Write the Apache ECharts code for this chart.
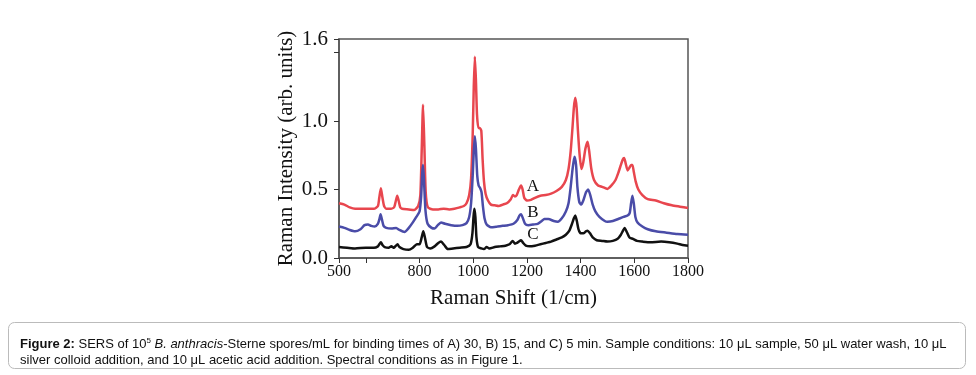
<!DOCTYPE html>
<html>
<head>
<meta charset="utf-8">
<script src="https://cdn.jsdelivr.net/npm/echarts@6/dist/echarts.min.js"></script>
<style>
  html, body { margin: 0; padding: 0; background: #fff; }
  #chart { width: 976px; height: 375px; }
</style>
</head>
<body>
<div id="chart"></div>
<script>
// 光谱数据
var shiftA = [500, 520, 540, 560, 600, 630, 645, 650, 656, 662,
  668, 676, 690, 705, 712, 717, 722, 728, 735, 760,
  780, 795, 803, 808, 813, 818, 823, 831, 850, 870,
  890, 910, 930, 950, 965, 975, 985, 992, 998, 1002,
  1006, 1010, 1014, 1019, 1024, 1030, 1035, 1040, 1046, 1055,
  1066, 1080, 1095, 1110, 1125, 1140, 1148, 1155, 1162, 1170,
  1178, 1184, 1190, 1200, 1215, 1230, 1250, 1270, 1290, 1310,
  1330, 1345, 1355, 1363, 1370, 1375, 1380, 1385, 1390, 1396,
  1403, 1410, 1418, 1426, 1432, 1440, 1450, 1465, 1480, 1500,
  1515, 1530, 1540, 1550, 1557, 1562, 1568, 1575, 1582, 1588,
  1593, 1598, 1605, 1615, 1630, 1650, 1680, 1710, 1740, 1770,
  1800];
var intensityA = [0.40, 0.39, 0.37, 0.36, 0.36, 0.36, 0.38, 0.44, 0.51, 0.44,
  0.38, 0.36, 0.36, 0.37, 0.42, 0.455, 0.42, 0.37, 0.36, 0.355,
  0.35, 0.38, 0.46, 0.78, 1.12, 0.82, 0.48, 0.37, 0.355, 0.355,
  0.36, 0.355, 0.36, 0.37, 0.38, 0.40, 0.46, 0.58, 0.90, 1.25,
  1.47, 1.30, 1.05, 0.95, 0.95, 0.93, 0.72, 0.56, 0.47, 0.42,
  0.39, 0.385, 0.38, 0.39, 0.40, 0.43, 0.46, 0.45, 0.46, 0.50,
  0.53, 0.50, 0.44, 0.42, 0.425, 0.44, 0.455, 0.46, 0.47, 0.49,
  0.52, 0.57, 0.65, 0.78, 0.96, 1.10, 1.17, 1.10, 0.93, 0.76,
  0.65, 0.70, 0.80, 0.85, 0.78, 0.65, 0.57, 0.53, 0.52, 0.505,
  0.53, 0.57, 0.62, 0.68, 0.72, 0.73, 0.69, 0.64, 0.66, 0.68,
  0.68, 0.63, 0.56, 0.50, 0.46, 0.43, 0.42, 0.40, 0.385, 0.375,
  0.365];

var shiftB = [500, 520, 540, 560, 580, 595, 608, 620, 633, 645,
  650, 655, 660, 666, 676, 695, 713, 725, 744, 760,
  775, 788, 800, 806, 810, 813, 817, 822, 830, 845,
  856, 868, 880, 895, 918, 940, 960, 975, 985, 992,
  998, 1002, 1006, 1010, 1015, 1020, 1026, 1031, 1036, 1042,
  1050, 1066, 1090, 1110, 1130, 1150, 1165, 1172, 1178, 1185,
  1193, 1205, 1225, 1240, 1255, 1265, 1280, 1300, 1315, 1330,
  1345, 1355, 1363, 1370, 1377, 1383, 1388, 1395, 1402, 1410,
  1420, 1428, 1436, 1445, 1455, 1470, 1490, 1500, 1520, 1540,
  1560, 1575, 1583, 1588, 1593, 1598, 1604, 1612, 1630, 1650,
  1680, 1720, 1760, 1800];
var intensityB = [0.23, 0.22, 0.205, 0.195, 0.21, 0.24, 0.245, 0.235, 0.23, 0.25,
  0.28, 0.32, 0.28, 0.235, 0.22, 0.215, 0.22, 0.205, 0.19, 0.22,
  0.26, 0.30, 0.34, 0.45, 0.62, 0.68, 0.55, 0.35, 0.25, 0.22,
  0.215, 0.24, 0.26, 0.25, 0.24, 0.235, 0.24, 0.255, 0.30, 0.40,
  0.60, 0.78, 0.89, 0.80, 0.60, 0.53, 0.51, 0.48, 0.38, 0.29,
  0.245, 0.225, 0.23, 0.235, 0.24, 0.25, 0.28, 0.31, 0.32, 0.29,
  0.25, 0.24, 0.245, 0.25, 0.27, 0.285, 0.285, 0.27, 0.265, 0.29,
  0.34, 0.40, 0.52, 0.65, 0.74, 0.68, 0.52, 0.41, 0.39, 0.42,
  0.48, 0.50, 0.46, 0.39, 0.34, 0.30, 0.27, 0.265, 0.27, 0.285,
  0.30, 0.31, 0.33, 0.40, 0.455, 0.40, 0.30, 0.26, 0.23, 0.21,
  0.195, 0.185, 0.175, 0.17];

var shiftC = [500, 530, 560, 600, 630, 645, 650, 656, 662, 670,
  685, 695, 705, 712, 718, 725, 740, 760, 775, 790,
  800, 808, 814, 820, 828, 840, 856, 870, 880, 892,
  905, 925, 950, 975, 990, 997, 1001, 1004, 1008, 1012,
  1018, 1030, 1040, 1050, 1060, 1080, 1100, 1120, 1135, 1147,
  1155, 1163, 1170, 1178, 1186, 1196, 1210, 1230, 1250, 1270,
  1290, 1310, 1330, 1345, 1358, 1368, 1375, 1380, 1386, 1392,
  1400, 1410, 1420, 1426, 1435, 1445, 1460, 1480, 1500, 1520,
  1538, 1550, 1558, 1564, 1572, 1582, 1595, 1610, 1630, 1660,
  1700, 1730, 1760, 1780, 1800];
var intensityC = [0.08, 0.075, 0.07, 0.075, 0.075, 0.085, 0.10, 0.115, 0.095, 0.08,
  0.075, 0.085, 0.075, 0.09, 0.10, 0.08, 0.065, 0.06, 0.075, 0.10,
  0.10, 0.15, 0.195, 0.15, 0.08, 0.07, 0.085, 0.11, 0.12, 0.095,
  0.065, 0.07, 0.075, 0.08, 0.10, 0.18, 0.30, 0.36, 0.30, 0.15,
  0.08, 0.07, 0.065, 0.08, 0.07, 0.08, 0.085, 0.09, 0.10, 0.125,
  0.105, 0.11, 0.12, 0.13, 0.11, 0.09, 0.085, 0.09, 0.10, 0.11,
  0.12, 0.135, 0.15, 0.17, 0.20, 0.25, 0.29, 0.31, 0.27, 0.21,
  0.18, 0.18, 0.195, 0.20, 0.18, 0.15, 0.13, 0.125, 0.12, 0.125,
  0.14, 0.17, 0.20, 0.22, 0.19, 0.15, 0.14, 0.125, 0.12, 0.115,
  0.12, 0.115, 0.105, 0.095, 0.09];

var xTicks = [500, 600, 800, 1000, 1200, 1400, 1600, 1800];
var xLabels = [500, 800, 1000, 1200, 1400, 1600, 1800];
var yTicks = [0, 0.5, 1.0, 1.5, 1.6];
var yLabels = [0, 0.5, 1.0, 1.6];

function pairs(xs, ys) {
  return xs.map(function (x, i) { return [x, ys[i]]; });
}

var serif = 'Liberation Serif';
var myChart = echarts.init(document.getElementById('chart'));

function tag(name, x, y) {
  return {
    data: [{ coord: [x, y], value: name }],
    symbol: 'circle',
    symbolSize: 0,
    silent: true,
    label: {
      show: true,
      position: 'inside',
      formatter: name,
      color: '#111',
      fontFamily: serif,
      fontSize: 17
    }
  };
}

var caption = '{b|Figure 2:} SERS of 10{sup|5} {i|B. anthracis}-Sterne spores/mL for binding times of A) 30, B) 15, and C) 5 min. ' +
  'Sample conditions: 10 μL sample, 50 μL water wash, 10 μL\nsilver colloid addition, and 10 μL acetic acid addition. Spectral conditions as in Figure 1.';

var options = {
  animation: false,
  backgroundColor: '#fff',
  grid: {
    left: 339, right: 288, top: 39, bottom: 117,
    show: true,
    borderColor: '#555',
    borderWidth: 1.5
  },
  xAxis: {
    type: 'value',
    min: 500, max: 1800,
    name: 'Raman Shift (1/cm)',
    nameLocation: 'middle',
    nameGap: 30,
    nameTextStyle: { fontFamily: serif, fontSize: 21, color: '#111' },
    axisLine: { lineStyle: { color: '#555', width: 1.5 } },
    axisTick: { show: true, inside: false, length: 5, customValues: xTicks, lineStyle: { color: '#333' } },
    axisLabel: {
      customValues: xLabels,
      formatter: function (v) { return String(v); },
      fontFamily: serif, fontSize: 16, color: '#111', margin: 6
    },
    splitLine: { show: false }
  },
  yAxis: {
    type: 'value',
    min: 0, max: 1.6,
    name: 'Raman Intensity (arb. units)',
    nameLocation: 'middle',
    nameRotate: 90,
    nameGap: 42,
    nameTextStyle: { fontFamily: serif, fontSize: 21, color: '#111' },
    axisLine: { lineStyle: { color: '#555', width: 1.5 } },
    axisTick: { show: true, inside: false, length: 5, customValues: yTicks, lineStyle: { color: '#333' } },
    axisLabel: {
      customValues: yLabels,
      formatter: function (v) { return v.toFixed(1); },
      fontFamily: serif, fontSize: 21, color: '#111', margin: 11
    },
    splitLine: { show: false }
  },
  series: [
    {
      name: 'A', type: 'line', data: pairs(shiftA, intensityA),
      showSymbol: false, smooth: 0.2,
      lineStyle: { color: '#e8464e', width: 2.5 },
      markPoint: tag('A', 1222, 0.52)
    },
    {
      name: 'B', type: 'line', data: pairs(shiftB, intensityB),
      showSymbol: false, smooth: 0.2,
      lineStyle: { color: '#4a4ca8', width: 2.5 },
      markPoint: tag('B', 1222, 0.335)
    },
    {
      name: 'C', type: 'line', data: pairs(shiftC, intensityC),
      showSymbol: false, smooth: 0.2,
      lineStyle: { color: '#111', width: 2.5 },
      markPoint: tag('C', 1222, 0.168)
    }
  ],
  graphic: [
    {
      type: 'rect',
      shape: { x: 8.5, y: 322.5, width: 957, height: 46, r: 6 },
      style: { fill: '#fff', stroke: '#bbb', lineWidth: 1 }
    },
    {
      type: 'text',
      left: 20, top: 336,
      style: {
        text: caption,
        fontFamily: 'Liberation Sans',
        fontSize: 13,
        lineHeight: 16,
        fill: '#111',
        rich: {
          b: { fontWeight: 'bold', fontFamily: 'Liberation Sans', fontSize: 13 },
          i: { fontStyle: 'italic', fontFamily: 'Liberation Sans', fontSize: 13 },
          sup: { fontFamily: 'Liberation Sans', fontSize: 8, padding: [0, 0, 7, 0] }
        }
      }
    }
  ]
};

myChart.setOption(options);
</script>
</body>
</html>
